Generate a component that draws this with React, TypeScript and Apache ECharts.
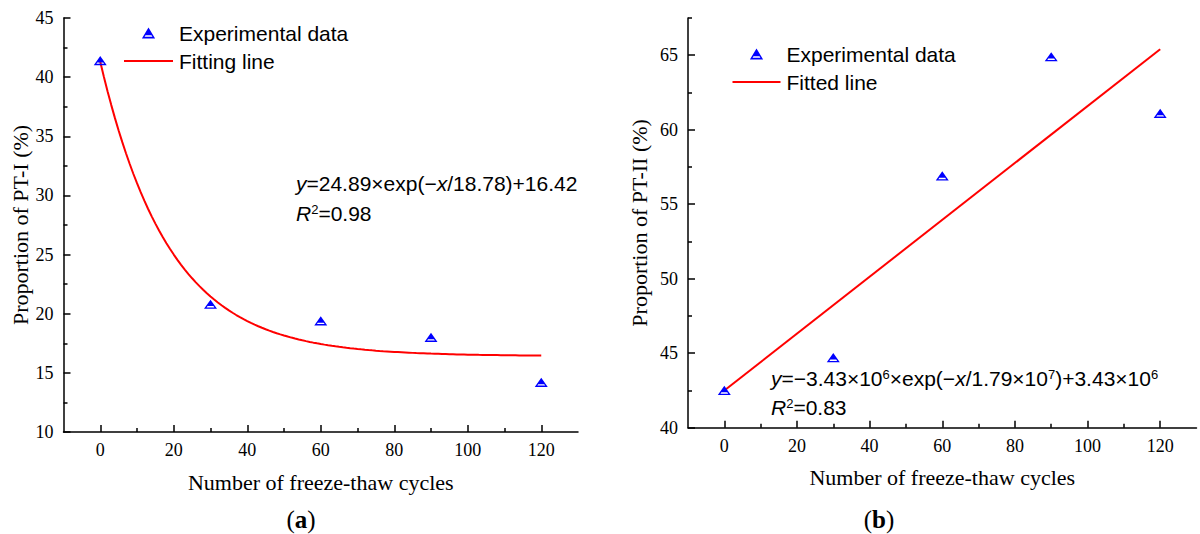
import React, { useEffect, useRef } from "react";
import * as echarts from "echarts";

// Freeze-thaw cycles and measured pore-type proportions
const cycles = [0, 30, 60, 90, 120];
const pt1Values = [41.4, 20.8, 19.4, 18.0, 14.2];
const pt2Values = [42.5, 44.7, 56.9, 64.9, 61.1];

// Exponential fit for PT-I: y = A * exp(-x / t) + y0
const fitA = 24.89;
const fitT = 18.78;
const fitY0 = 16.42;
const fitStartX = 0;
const fitEndX = 120;

// Straight fitted line for PT-II (end points)
const fitLineX = [0, 120];
const fitLineY = [42.5, 65.4];

// Axis ticks
const xMajorTicks = [0, 20, 40, 60, 80, 100, 120];
const xMinorTicks = [10, 30, 50, 70, 90, 110];
const yMajorTicksA = [10, 15, 20, 25, 30, 35, 40, 45];
const yMinorTicksA = [12.5, 17.5, 22.5, 27.5, 32.5, 37.5, 42.5];
const yMajorTicksB = [40, 45, 50, 55, 60, 65];
const yMinorTicksB = [42.5, 47.5, 52.5, 57.5, 62.5, 67.5];

// Up-triangle with a thin white band near its base
const TRIANGLE = "path://M6,0L12,10L0,10ZM3.3,7L2.4,8.5L9.6,8.5L8.7,7Z";
const SERIF = "Liberation Serif";
const SANS = "Liberation Sans";

function expFitCurve(): number[][] {
  const pts: number[][] = [];
  for (let x = fitStartX; x <= fitEndX; x += 1) {
    pts.push([x, fitA * Math.exp(-x / fitT) + fitY0]);
  }
  return pts;
}

function majorX(gridIndex: number, name: string, nameGap: number) {
  return {
    type: "value",
    gridIndex,
    min: -10,
    max: 130,
    name,
    nameLocation: "middle",
    nameGap,
    nameTextStyle: { fontFamily: SERIF, fontSize: 22, color: "#000" },
    axisLine: { show: true, onZero: false, lineStyle: { color: "#000", width: 1.5 } },
    axisTick: { show: true, inside: true, length: 7, customValues: xMajorTicks, lineStyle: { color: "#000", width: 1.5 } },
    axisLabel: { show: true, customValues: xMajorTicks, margin: 9, fontFamily: SERIF, fontSize: 18, color: "#000" },
    splitLine: { show: false },
  };
}

function minorX(gridIndex: number) {
  return {
    type: "value",
    gridIndex,
    min: -10,
    max: 130,
    position: "bottom",
    axisLine: { show: false, onZero: false },
    axisTick: { show: true, inside: true, length: 4, customValues: xMinorTicks, lineStyle: { color: "#000", width: 1.5 } },
    axisLabel: { show: false },
    splitLine: { show: false },
  };
}

function majorY(gridIndex: number, min: number, max: number, ticks: number[], name: string, nameGap: number) {
  return {
    type: "value",
    gridIndex,
    min,
    max,
    position: "left",
    name,
    nameLocation: "middle",
    nameGap,
    nameTextStyle: { fontFamily: SERIF, fontSize: 22, color: "#000" },
    axisLine: { show: true, onZero: false, lineStyle: { color: "#000", width: 1.5 } },
    axisTick: { show: true, inside: true, length: 7, customValues: ticks, lineStyle: { color: "#000", width: 1.5 } },
    axisLabel: { show: true, customValues: ticks, margin: 10, fontFamily: SERIF, fontSize: 18, color: "#000" },
    splitLine: { show: false },
  };
}

function minorY(gridIndex: number, min: number, max: number, ticks: number[]) {
  return {
    type: "value",
    gridIndex,
    min,
    max,
    position: "left",
    offset: 0,
    axisLine: { show: false, onZero: false },
    axisTick: { show: true, inside: true, length: 4, customValues: ticks, lineStyle: { color: "#000", width: 1.5 } },
    axisLabel: { show: false },
    splitLine: { show: false },
  };
}

function legend(left: number, top: number, lineName: string, iconWidth: number) {
  return {
    orient: "vertical",
    left,
    top,
    padding: 0,
    itemGap: 6,
    itemWidth: iconWidth,
    itemHeight: 11,
    selectedMode: false,
    data: [
      { name: "Experimental data" },
      // line icon only, without the centre dot
      { name: lineName, itemStyle: { opacity: 0 } },
    ],
    textStyle: { fontFamily: SANS, fontSize: 21, color: "#000", lineHeight: 22, padding: [0, 0, 0, 1] },
  };
}

const eqRich = {
  n: { fontFamily: SANS, fontSize: 21, fill: "#000" },
  i: { fontFamily: SANS, fontSize: 21, fontStyle: "italic", fill: "#000" },
  sup: { fontFamily: SANS, fontSize: 13, fill: "#000", verticalAlign: "top" },
};

function textEl(x: number, y: number, text: string) {
  return {
    type: "text",
    x,
    y,
    style: {
      text,
      rich: eqRich,
      fontFamily: SANS,
      fontSize: 21,
      fill: "#000",
      align: "left",
      verticalAlign: "middle",
    },
  };
}

function panelLabel(x: number, y: number, letter: string) {
  return {
    type: "text",
    x,
    y,
    style: {
      text: "(" + "{b|" + letter + "})",
      rich: { b: { fontFamily: SERIF, fontSize: 25, fontWeight: "bold", fill: "#000" } },
      fontFamily: SERIF,
      fontSize: 25,
      fill: "#000",
      align: "center",
      verticalAlign: "middle",
    },
  };
}

export default function App() {
  const ref = useRef<HTMLDivElement>(null);

  useEffect(() => {
    if (!ref.current) return;
    const chart = echarts.init(ref.current, undefined, { renderer: "svg" });

    const scatterBase = {
      type: "scatter",
      symbol: TRIANGLE,
      symbolSize: [13, 11],
      symbolKeepAspect: true,
      itemStyle: { color: "#0000ff", opacity: 1 },
      z: 3,
    };

    const option = {
      animation: false,
      backgroundColor: "#fff",
      grid: [
        { left: 63.5, top: 18, width: 514.5, height: 414, containLabel: false, outerBoundsMode: "none" },
        { left: 688, top: 18, width: 508.5, height: 409.7, containLabel: false, outerBoundsMode: "none" },
      ],
      xAxis: [
        majorX(0, "Number of freeze-thaw cycles", 39),
        minorX(0),
        majorX(1, "Number of freeze-thaw cycles", 39),
        minorX(1),
      ],
      yAxis: [
        majorY(0, 10, 45, yMajorTicksA, "Proportion of PT-I (%)", 32),
        minorY(0, 10, 45, yMinorTicksA),
        majorY(1, 40, 67.5, yMajorTicksB, "Proportion of PT-II (%)", 38),
        minorY(1, 40, 67.5, yMinorTicksB),
      ],
      legend: [legend(123, 22, "Fitting line", 49), legend(731.5, 43, "Fitted line", 48)],
      series: [
        {
          name: "Fitting line",
          type: "line",
          xAxisIndex: 0,
          yAxisIndex: 0,
          data: expFitCurve(),
          symbol: "none",
          showSymbol: false,
          lineStyle: { color: "#ff0000", width: 2 },
          itemStyle: { color: "#ff0000" },
          z: 2,
        },
        {
          ...scatterBase,
          name: "Experimental data",
          xAxisIndex: 0,
          yAxisIndex: 0,
          data: cycles.map((c, i) => [c, pt1Values[i]]),
        },
        {
          name: "Fitted line",
          type: "line",
          xAxisIndex: 2,
          yAxisIndex: 2,
          data: fitLineX.map((x, i) => [x, fitLineY[i]]),
          symbol: "none",
          showSymbol: false,
          lineStyle: { color: "#ff0000", width: 2 },
          itemStyle: { color: "#ff0000" },
          z: 2,
        },
        {
          ...scatterBase,
          name: "Experimental data",
          xAxisIndex: 2,
          yAxisIndex: 2,
          data: cycles.map((c, i) => [c, pt2Values[i]]),
        },
      ],
      graphic: [
        textEl(296, 183, "{i|y}{n|=24.89×exp(−}{i|x}{n|/18.78)+16.42}"),
        textEl(296, 213, "{i|R}{sup|2}{n|=0.98}"),
        textEl(771, 378, "{i|y}{n|=−3.43×10}{sup|6}{n|×exp(−}{i|x}{n|/1.79×10}{sup|7}{n|)+3.43×10}{sup|6}"),
        textEl(771, 407, "{i|R}{sup|2}{n|=0.83}"),
        panelLabel(301, 519, "a"),
        panelLabel(879, 519, "b"),
      ],
    };

    chart.setOption(option as any);
    return () => chart.dispose();
  }, []);

  return (
    <div
      ref={ref}
      style={{ position: "absolute", left: 0, top: 0, width: 1200, height: 534 }}
    />
  );
}
